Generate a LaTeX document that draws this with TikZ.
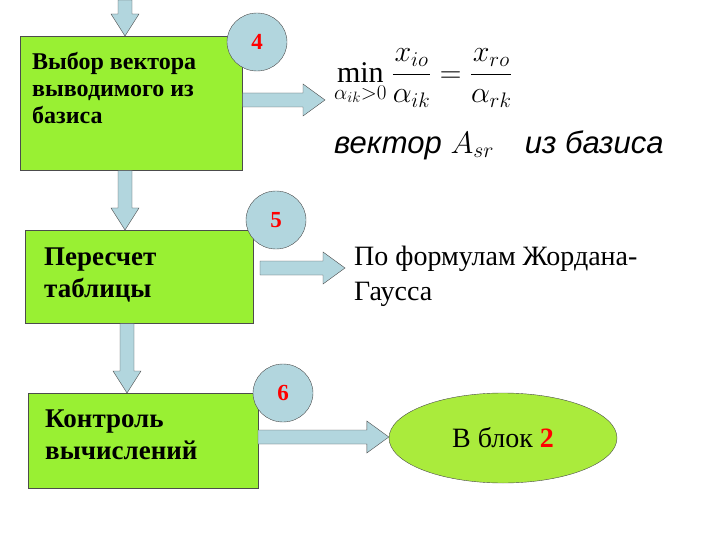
\RequirePackage{fix-cm}
\documentclass[tikz,border=0pt]{standalone}
\usepackage{fontspec}
\setmainfont{Liberation Serif}
\newfontfamily\ariali{Liberation Sans}
\usepackage{amsmath}
\usetikzlibrary{calc}
\definecolor{boxgreen}{RGB}{153,240,51}
\definecolor{ovgreen}{RGB}{170,235,60}
\definecolor{arrblue}{RGB}{178,214,222}
\tikzstyle{box}=[draw=black!70,fill=boxgreen,anchor=north west,inner sep=0]
\tikzstyle{num}=[draw=black!70,fill=arrblue,ellipse,minimum width=60pt,minimum height=58pt,inner sep=0,text=red,font=\bfseries\fontsize{23}{23}\selectfont]
\tikzstyle{blk}=[draw=black!70,fill=arrblue]
\tikzstyle{btxt}=[anchor=north west,align=left,inner sep=0,font=\bfseries\fontsize{27}{32}\selectfont]
\newcommand\harr[2]{\draw[blk] let \p1=(#1), \p2=(#2) in (\x1,\y1+7) -- (\x2-22,\y1+7) -- (\x2-22,\y1+16) -- (\x2,\y1) -- (\x2-22,\y1-16) -- (\x2-22,\y1-7) -- (\x1,\y1-7) -- cycle;}
\newcommand\varr[2]{\draw[blk] let \p1=(#1), \p2=(#2) in (\x1-7,\y1) -- (\x1-7,\y2+22) -- (\x1-14,\y2+22) -- (\x1,\y2) -- (\x1+14,\y2+22) -- (\x1+7,\y2+22) -- (\x1+7,\y1) -- cycle;}
\usetikzlibrary{shapes.geometric}
\begin{document}
\begin{tikzpicture}[x=1pt,y=-1pt]
\useasboundingbox (0,0) rectangle (720,540);

\node[box,minimum width=222pt,minimum height=134pt] (b1) at (20,36) {};
\node[box,minimum width=228pt,minimum height=93pt] (b2) at (25,230) {};
\node[box,minimum width=230pt,minimum height=95pt] (b3) at (28,393) {};
\node[draw=black!70,fill=ovgreen,ellipse,minimum width=228pt,minimum height=90pt,font=\fontsize{28}{28}\selectfont] (end) at (503,438) {В блок \textcolor{red}{\textbf{2}}};

\node[btxt,font=\bfseries\fontsize{24}{27}\selectfont] (t1) at (32,52) {Выбор вектора\\выводимого из\\базиса};
\node[btxt] (t2) at (44,248) {Пересчет\\таблицы};
\node[btxt] (t3) at (45,410) {Контроль\\вычислений};

\node[num] (n4) at (257,42) {4};
\node[num] (n5) at (276,220) {5};
\node[num] (n6) at (283,393) {6};

\node[anchor=north west,align=left,inner sep=0,font=\fontsize{28}{35}\selectfont] (jg) at (354,246) {По формулам Жордана-\\Гаусса};
\node[anchor=west,inner sep=0,font=\fontsize{30}{30}\selectfont] (f1) at (334,78)
 {$\displaystyle\min_{\alpha_{ik}>0}\frac{x_{io}}{\alpha_{ik}}=\frac{x_{ro}}{\alpha_{rk}}$};
\node[anchor=west,inner sep=0,font=\ariali\itshape\fontsize{31}{31}\selectfont] (f2) at (334,145)
 {вектор $A_{sr}$\quad из базиса};

\coordinate (top) at (125,0);
\coordinate (a1) at (325,100);
\coordinate (a2s) at (260,268);
\coordinate (a2) at (345,268);
\coordinate (a3s) at (258,437);

\varr{top}{b1.north -| top}
\varr{b1.south -| top}{b2.north -| top}
\varr{b2.south -| 127,0}{b3.north -| 127,0}
\harr{b1.east |- a1}{a1}
\harr{a2s}{a2}
\harr{a3s}{end.west}
\end{tikzpicture}
\end{document}
